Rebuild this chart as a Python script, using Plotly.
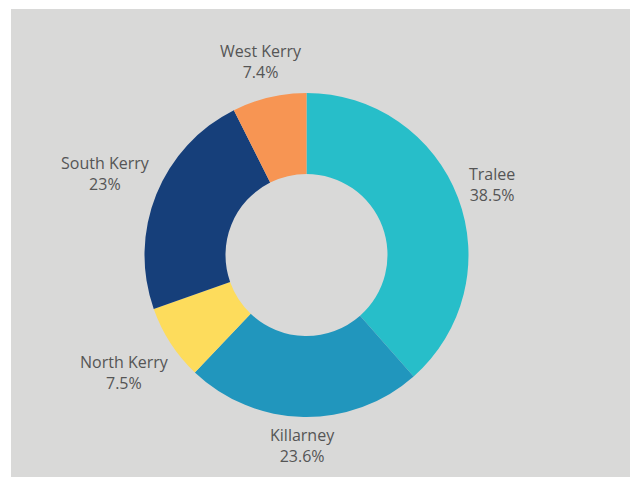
import math
import plotly.graph_objects as go

labels = ["Tralee", "Killarney", "North Kerry", "South Kerry", "West Kerry"]
values = [38.5, 23.6, 7.5, 23.0, 7.4]
colors = ["#27BEC9", "#2196BD", "#FDDC5C", "#163F7A", "#F79553"]

W, H = 638, 477
# page body has an 8px margin; positions below are in figure pixels
cx, cy, R = 298.5, 247, 162
FONT = dict(family="Open Sans", size=16, color="#555555")

fig = go.Figure(go.Pie(
    labels=labels, values=values, sort=False, direction="clockwise", rotation=0,
    hole=0.5, marker=dict(colors=colors, line=dict(width=0)),
    textinfo="none", showlegend=False,
    domain=dict(x=[(cx - R) / W, (cx + R) / W], y=[1 - (cy + R) / H, 1 - (cy - R) / H]),
))

# outside labels placed along each slice's mid-angle (derived from the values)
total = sum(values)
annotations = []
cum = 0.0
for lab, v in zip(labels, values):
    mid = (cum + v / 2) / total * 2 * math.pi
    cum += v
    pct = v / total * 100
    pct_txt = f"{pct:.1f}".rstrip("0").rstrip(".") + "%"
    text = f"{lab}<br>{pct_txt}"
    dx, dy = math.sin(mid), -math.cos(mid)
    hw = max(len(lab), len(pct_txt)) * 7.8 / 2
    hh = 21
    dist = R + 7 + abs(dx) * hw + abs(dy) * hh
    px, py = cx + dx * dist, cy + dy * dist
    annotations.append(dict(
        x=px / W, y=1 - py / H, xref="paper", yref="paper", text=text,
        showarrow=False, xanchor="center", yanchor="middle", align="center",
        font=FONT,
    ))

fig.update_layout(
    width=W, height=H, margin=dict(l=0, r=0, t=0, b=0),
    paper_bgcolor="#D9D9D8",
    annotations=annotations,
    shapes=[
        dict(type="rect", xref="paper", yref="paper", x0=0, x1=3 / W, y0=0, y1=1,
             fillcolor="white", line=dict(width=0), layer="below"),
        dict(type="rect", xref="paper", yref="paper", x0=0, x1=1, y0=1 - 1 / H, y1=1,
             fillcolor="white", line=dict(width=0), layer="below"),
    ],
)
fig.write_html("out.html")
